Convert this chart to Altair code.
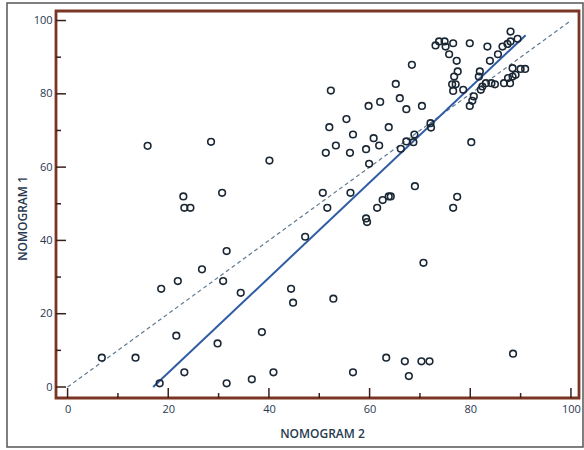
import altair as alt
import pandas as pd

# NOMOGRAM 2 (x) and NOMOGRAM 1 (y) values
nomogram2 = [6.8, 13.5, 15.9, 18.3, 18.6, 21.6, 21.9, 23.0, 23.2, 23.2, 24.4, 26.7, 28.5, 29.8,
             30.7, 30.9, 31.6, 31.6, 34.4, 36.6, 38.6, 40.1, 40.9, 44.4, 44.8, 47.2, 50.7, 51.3,
             51.6, 52.0, 52.3, 52.8, 53.3, 55.4, 56.2, 56.1, 56.7, 56.7, 59.3, 59.3, 59.5, 59.8,
             59.9, 60.8, 61.5, 61.9, 62.1, 62.6, 63.3, 63.8, 63.8, 64.2, 65.2, 66.0, 66.2, 67.0,
             67.3, 67.3, 67.8, 68.4, 68.7, 68.9, 69.0, 70.4, 70.3, 70.7, 71.9, 72.1, 72.2,
             73.1, 73.8, 74.9, 75.1, 76.6, 75.8, 77.3, 79.9, 83.4, 83.9, 85.5, 86.4, 87.4, 88.0,
             88.0, 89.4, 76.8, 76.4, 77.1, 76.6, 78.6, 77.5, 81.9, 81.7, 83.1, 84.2, 82.4, 82.1,
             84.9, 86.7, 87.5, 87.9, 88.4, 89.0, 88.4, 90.0, 90.9, 80.7, 80.4, 79.9, 80.2, 76.6,
             77.4, 88.5]
nomogram1 = [8.0, 8.0, 65.8, 1.0, 26.8, 14.0, 28.9, 52.0, 4.0, 48.9, 48.9, 32.1, 66.9, 11.9,
             53.0, 28.9, 37.1, 1.0, 25.7, 2.1, 15.0, 61.8, 4.0, 26.8, 23.0, 41.0, 53.0, 63.9,
             48.9, 70.9, 80.9, 24.1, 65.9, 73.1, 53.0, 63.9, 68.9, 4.0, 64.9, 46.0, 45.0, 76.7,
             60.9, 67.9, 48.9, 65.9, 77.8, 51.0, 8.0, 70.9, 52.0, 52.0, 82.7, 78.8, 65.0, 7.0,
             75.8, 67.0, 3.0, 87.9, 66.8, 68.9, 54.8, 76.7, 7.0, 33.9, 7.0, 72.0, 70.8,
             93.2, 94.3, 94.3, 92.9, 93.8, 90.8, 89.0, 93.8, 92.9, 89.0, 90.8, 92.9, 93.6, 94.3,
             97.0, 95.0, 84.7, 82.6, 82.6, 80.8, 81.1, 86.1, 86.1, 84.7, 82.9, 82.9, 82.0, 81.1,
             82.6, 82.9, 84.3, 82.9, 84.7, 85.2, 87.0, 86.8, 86.8, 79.3, 78.1, 76.7, 66.8, 48.9,
             51.9, 9.1]

# identity (dashed) and fitted (blue) lines
identity_x = [0, 100]
identity_y = [0, 100]
fit_x = [17, 91]
fit_y = [0, 96]

major_ticks = [0, 20, 40, 60, 80, 100]
minor_ticks = [10, 30, 50, 70, 90]

W, H = 523, 387
FONT = "Open Sans"
TXT = "#27384f"
FRAME = "#7b3524"
TICK = "#3a2018"

xs = alt.Scale(domain=[-2.3, 101.6], nice=False, zero=False)
ys = alt.Scale(domain=[-3.0, 102.6], nice=False, zero=False)

pts = pd.DataFrame({"n2": nomogram2, "n1": nomogram1})
ident = pd.DataFrame({"n2": identity_x, "n1": identity_y})
fit = pd.DataFrame({"n2": fit_x, "n1": fit_y})
maj = pd.DataFrame({"v": major_ticks})
mnr = pd.DataFrame({"v": minor_ticks})

xaxis = alt.Axis(values=major_ticks, ticks=False, tickSize=0, domain=False, grid=False,
                 labelPadding=5, labelFont=FONT, labelFontSize=11, labelColor=TXT,
                 title="NOMOGRAM 2", titleFont=FONT, titleFontSize=12, titleFontWeight=600,
                 titleColor=TXT, titleX=266, titleY=35, titleBaseline="middle")
yaxis = alt.Axis(values=major_ticks, ticks=False, tickSize=0, domain=False, grid=False,
                 labelPadding=4, labelFont=FONT, labelFontSize=11, labelColor=TXT,
                 title="NOMOGRAM 1", titleFont=FONT, titleFontSize=12, titleFontWeight=600,
                 titleColor=TXT, titleX=-34, titleY=207, titleBaseline="middle")

scatter = alt.Chart(pts).mark_point(shape="circle", filled=False, size=44, strokeWidth=1.6,
                                    color="#1a2734", opacity=1).encode(
    x=alt.X("n2:Q", scale=xs, axis=xaxis),
    y=alt.Y("n1:Q", scale=ys, axis=yaxis),
)

ident_line = alt.Chart(ident).mark_line(color="#5f7a90", strokeWidth=1.2,
                                        strokeDash=[4, 3]).encode(
    x=alt.X("n2:Q", scale=xs), y=alt.Y("n1:Q", scale=ys))

fit_line = alt.Chart(fit).mark_line(color="#2f5ca3", strokeWidth=2).encode(
    x=alt.X("n2:Q", scale=xs), y=alt.Y("n1:Q", scale=ys))

xmaj = alt.Chart(maj).mark_rule(color=TICK, strokeWidth=1.5).encode(
    x=alt.X("v:Q", scale=xs), y=alt.value(H), y2=alt.value(H - 10))
xmin = alt.Chart(mnr).mark_rule(color=TICK, strokeWidth=1.5).encode(
    x=alt.X("v:Q", scale=xs), y=alt.value(H), y2=alt.value(H - 5))
ymaj = alt.Chart(maj).mark_rule(color=TICK, strokeWidth=1.5).encode(
    y=alt.Y("v:Q", scale=ys), x=alt.value(0), x2=alt.value(10))
ymin = alt.Chart(mnr).mark_rule(color=TICK, strokeWidth=1.5).encode(
    y=alt.Y("v:Q", scale=ys), x=alt.value(0), x2=alt.value(5))

outer = alt.Chart(alt.Data(values=[{"a": 1}])).mark_rect(
    fill="transparent", stroke="#555555", strokeWidth=1.5).encode(
    x=alt.value(-49), x2=alt.value(527), y=alt.value(-8), y2=alt.value(436))

chart = alt.layer(outer, ident_line, fit_line, scatter, xmaj, xmin, ymaj, ymin).properties(
    width=W, height=H,
    autosize=alt.AutoSizeParams(type="none"),
    padding={"left": 56, "top": 11, "right": 5, "bottom": 52},
    background="white",
).configure_view(stroke=FRAME, strokeWidth=2.8)

chart.save("out.html", embed_options={"renderer": "svg", "actions": False})
